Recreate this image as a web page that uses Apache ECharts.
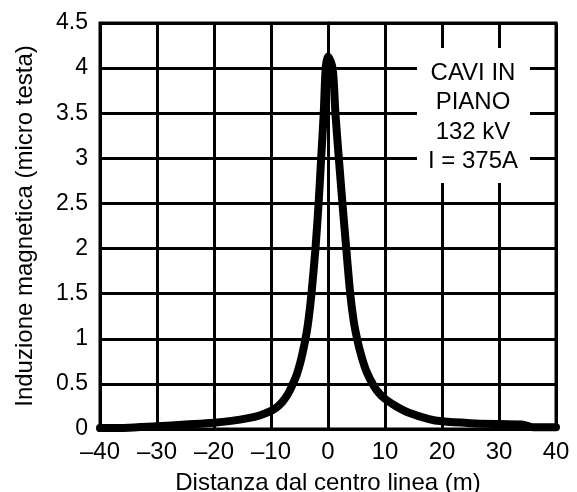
<!DOCTYPE html>
<html>
<head>
<meta charset="utf-8">
<script src="https://cdn.jsdelivr.net/npm/echarts@6/dist/echarts.min.js"></script>
<style>
  html, body { margin: 0; padding: 0; background: #fff; }
  #chart { width: 577px; height: 492px; }
</style>
</head>
<body>
<div id="chart"></div>
<script>
// Distance from the line centre (m)
const distances = [-40, -35, -30, -25, -20, -17, -14, -12, -10, -9, -8, -7, -6.3, -5.5, -4.8, -4.2, -3.8, -3.4, -2.9, -2.2, -1.65, -1.2, -0.75, -0.4, 0,
  0.8, 1.3, 1.9, 2.6, 3.2, 3.9, 4.5, 5.1, 5.9, 6.8, 8.1, 9.2, 10.3, 12, 14.2, 17.7, 20, 25, 30, 34, 36, 40];
// Magnetic induction (micro tesla)
const induction = [0.01, 0.015, 0.03, 0.05, 0.07, 0.09, 0.12, 0.15, 0.2, 0.24, 0.3, 0.39, 0.48, 0.6, 0.75, 0.92, 1.05, 1.22, 1.5, 2.0, 2.5, 3.0, 3.5, 4.0, 4.13,
  4.0, 3.5, 3.0, 2.45, 2.0, 1.5, 1.2, 1.0, 0.8, 0.63, 0.47, 0.38, 0.32, 0.25, 0.18, 0.11, 0.085, 0.065, 0.055, 0.05, 0.02, 0.02];

const xTicks = [-40, -30, -20, -10, 0, 10, 20, 30, 40];
const yTicks = [0, 0.5, 1, 1.5, 2, 2.5, 3, 3.5, 4, 4.5];
const noteLines = ['CAVI IN', 'PIANO', '132 kV', 'I = 375A'];

const FONT = '"Liberation Sans", Arial, Helvetica, sans-serif';
const chart = echarts.init(document.getElementById('chart'), null, { renderer: 'canvas' });

const points = distances.map((d, i) => [d, induction[i]]);

chart.setOption({
  backgroundColor: '#fff',
  animation: false,
  grid: {
    left: 100, right: 21, top: 23, bottom: 63,
    outerBoundsMode: 'none', containLabel: false,
    show: true, borderColor: '#000', borderWidth: 3
  },
  xAxis: {
    type: 'value',
    min: xTicks[0],
    max: xTicks[xTicks.length - 1],
    interval: 10,
    name: 'Distanza dal centro linea (m)',
    nameLocation: 'middle',
    nameGap: 42,
    nameTextStyle: { color: '#000', fontSize: 24, fontFamily: FONT },
    axisLine: { show: true, lineStyle: { color: '#000', width: 3 } },
    axisTick: { show: false },
    axisLabel: {
      color: '#000', fontSize: 24, fontFamily: FONT, margin: 11,
      formatter: v => (v < 0 ? '\u2013' + Math.abs(v) : String(v))
    },
    splitLine: { show: true, lineStyle: { color: '#000', width: 3 } }
  },
  yAxis: {
    type: 'value',
    min: yTicks[0],
    max: yTicks[yTicks.length - 1],
    interval: 0.5,
    name: 'Induzione magnetica (micro testa)',
    nameLocation: 'middle',
    nameGap: 63,
    nameTextStyle: { color: '#000', fontSize: 24, fontFamily: FONT },
    axisLine: { show: true, lineStyle: { color: '#000', width: 3 } },
    axisTick: { show: false },
    axisLabel: { color: '#000', fontSize: 23, fontFamily: FONT, margin: 12 },
    splitLine: { show: true, lineStyle: { color: '#000', width: 3 } }
  },
  graphic: [
    { type: 'rect', z: 100, zlevel: 1, shape: { x: 417, y: 48, width: 113, height: 135 }, style: { fill: '#fff' } },
    ...noteLines.map((t, i) => ({
      type: 'text',
      z: 101,
      zlevel: 1,
      x: 473,
      y: 73 + i * 29.6,
      style: { text: t, fill: '#000', font: '24px ' + FONT, textAlign: 'center', textVerticalAlign: 'middle' }
    }))
  ],
  series: [{
    type: 'line',
    data: points,
    smooth: 0.3,
    showSymbol: false,
    z: 10,
    lineStyle: { color: '#000', width: 8, cap: 'round', join: 'round' }
  }]
});
</script>
</body>
</html>
